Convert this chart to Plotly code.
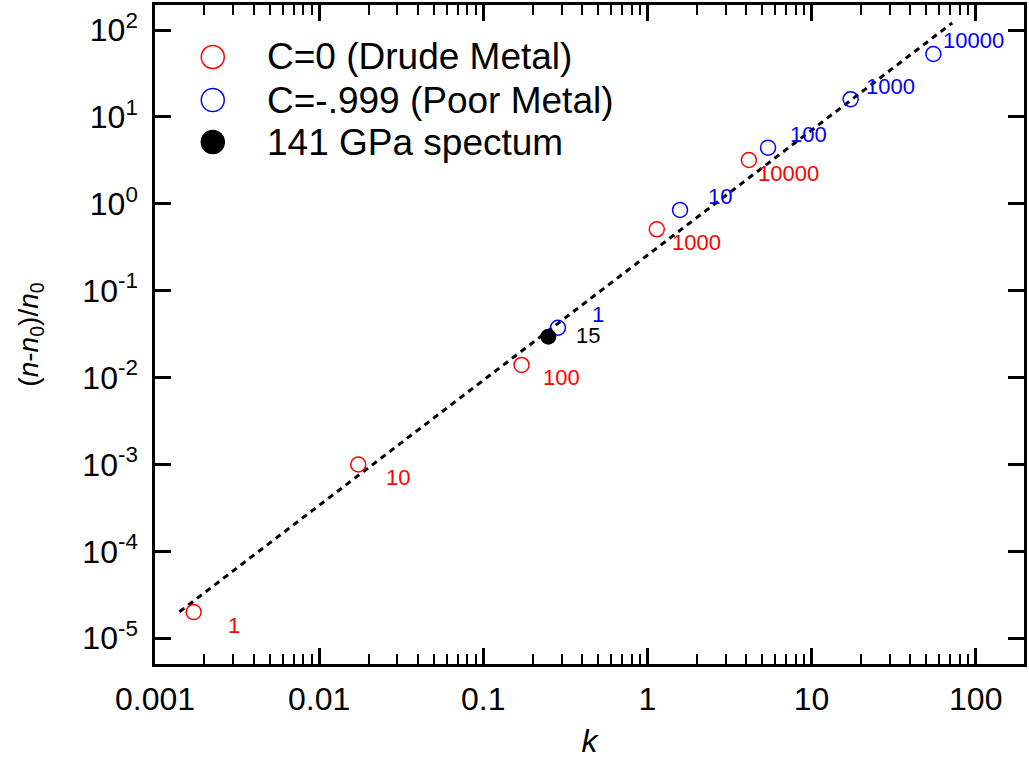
import plotly.graph_objects as go
import numpy as np

# ---- data ----
drude_k = [0.00172, 0.0173, 0.171, 1.14, 4.15]
drude_y = [2.0e-5, 1.0e-3, 0.0140, 0.509, 3.19]
drude_lbl = ["1", "10", "100", "1000", "10000"]

poor_k = [0.285, 1.58, 5.43, 17.3, 55.2]
poor_y = [0.0375, 0.849, 4.43, 16.0, 53.0]
poor_lbl = ["1", "10", "100", "1000", "10000"]

spec_k = [0.249]
spec_y = [0.0296]
spec_lbl = ["15"]

fit_k = [0.00141, 71.9]
fit_y = [2.02e-5, 120.5]

x_tickvals = [0.001, 0.01, 0.1, 1, 10, 100]
x_ticktext = ["0.001", "0.01", "0.1", "1", "10", "100"]
y_tickvals = [1e-5, 1e-4, 1e-3, 1e-2, 1e-1, 1, 10, 100]
y_ticktext = ["10<sup>-5</sup>", "10<sup>-4</sup>", "10<sup>-3</sup>", "10<sup>-2</sup>",
              "10<sup>-1</sup>", "10<sup>0</sup>", "10<sup>1</sup>", "10<sup>2</sup>"]

legend_labels = ["C=0 (Drude Metal)", "C=-.999 (Poor Metal)", "141 GPa spectum"]

FONT = "Arial, Liberation Sans, sans-serif"
RED = "#ff0000"
BLUE = "#0000ff"
legend_line = [RED, BLUE, "black"]
legend_fill = ["rgba(0,0,0,0)", "rgba(0,0,0,0)", "black"]

fig = go.Figure()
fig.add_trace(go.Scatter(x=fit_k, y=fit_y, mode="lines",
                         line=dict(color="black", width=3, dash="6px,5px"),
                         showlegend=False, hoverinfo="skip"))
fig.add_trace(go.Scatter(x=drude_k, y=drude_y, mode="markers", name=legend_labels[0], showlegend=False,
                         marker=dict(symbol="circle-open", size=15, color=RED, line=dict(width=1.5, color=RED))))
fig.add_trace(go.Scatter(x=poor_k, y=poor_y, mode="markers", name=legend_labels[1], showlegend=False,
                         marker=dict(symbol="circle-open", size=15, color=BLUE, line=dict(width=1.5, color=BLUE))))
fig.add_trace(go.Scatter(x=spec_k, y=spec_y, mode="markers", name=legend_labels[2], showlegend=False,
                         marker=dict(symbol="circle", size=16, color="black")))

for xs, ys, ls, col, dy in [(drude_k, drude_y, drude_lbl, RED, -13),
                            (poor_k, poor_y, poor_lbl, BLUE, 13),
                            (spec_k, spec_y, spec_lbl, "black", 1)]:
    for xv, yv, t in zip(xs, ys, ls):
        fig.add_annotation(x=np.log10(xv), y=np.log10(yv), text=t, showarrow=False,
                           xshift=40, yshift=dy, font=dict(size=22, color=col, family=FONT))

# ---- legend (drawn in paper coordinates) ----
leg_sym_x = 0.0665
leg_txt_x = 0.1261
leg_rows_y = [0.9211, 0.8558, 0.7921]
r = 11.5
for lab, lc, fc, yy in zip(legend_labels, legend_line, legend_fill, leg_rows_y):
    fig.add_shape(type="circle", xref="paper", yref="paper",
                  xsizemode="pixel", ysizemode="pixel",
                  xanchor=leg_sym_x, yanchor=yy, x0=-r, x1=r, y0=-r, y1=r,
                  line=dict(color=lc, width=1.5), fillcolor=fc)
    fig.add_annotation(xref="paper", yref="paper", x=leg_txt_x, y=yy, text=lab,
                       showarrow=False, xanchor="left", yanchor="middle",
                       font=dict(size=37, family=FONT, color="black"))

minor_x = [m * 10.0 ** e for e in range(-3, 3) for m in range(2, 10) if m * 10.0 ** e < 200]

fig.update_xaxes(type="log", range=[-3.0, 2.294],
                 tickvals=x_tickvals, ticktext=x_ticktext,
                 ticks="inside", ticklen=16, tickwidth=2.5, tickcolor="black",
                 minor=dict(tickvals=minor_x, ticks="inside", ticklen=10, tickwidth=2, tickcolor="black"),
                 showline=True, linewidth=2.5, linecolor="black", mirror="ticks",
                 showgrid=False, zeroline=False,
                 tickfont=dict(size=32, family=FONT, color="black"),
                 ticklabelstandoff=5,
                 title=dict(text="<i>k</i>", font=dict(size=32, family=FONT, color="black"), standoff=14))
fig.update_yaxes(type="log", range=[-5.296, 2.288],
                 tickvals=y_tickvals, ticktext=y_ticktext,
                 ticks="inside", ticklen=16, tickwidth=2.5, tickcolor="black",
                 showline=True, linewidth=2.5, linecolor="black", mirror="ticks",
                 showgrid=False, zeroline=False,
                 tickfont=dict(size=32, family=FONT, color="black"),
                 ticklabelstandoff=8,
                 title=dict(text="(<i>n</i>-<i>n</i><sub>0</sub>)/<i>n</i><sub>0</sub>",
                            font=dict(size=28, family=FONT, color="black"), standoff=36))

fig.update_layout(width=1029, height=767,
                  margin=dict(l=155, r=2, t=5, b=103),
                  paper_bgcolor="white", plot_bgcolor="white",
                  font=dict(family=FONT, color="black"),
                  showlegend=False)

fig.write_html("out.html")
